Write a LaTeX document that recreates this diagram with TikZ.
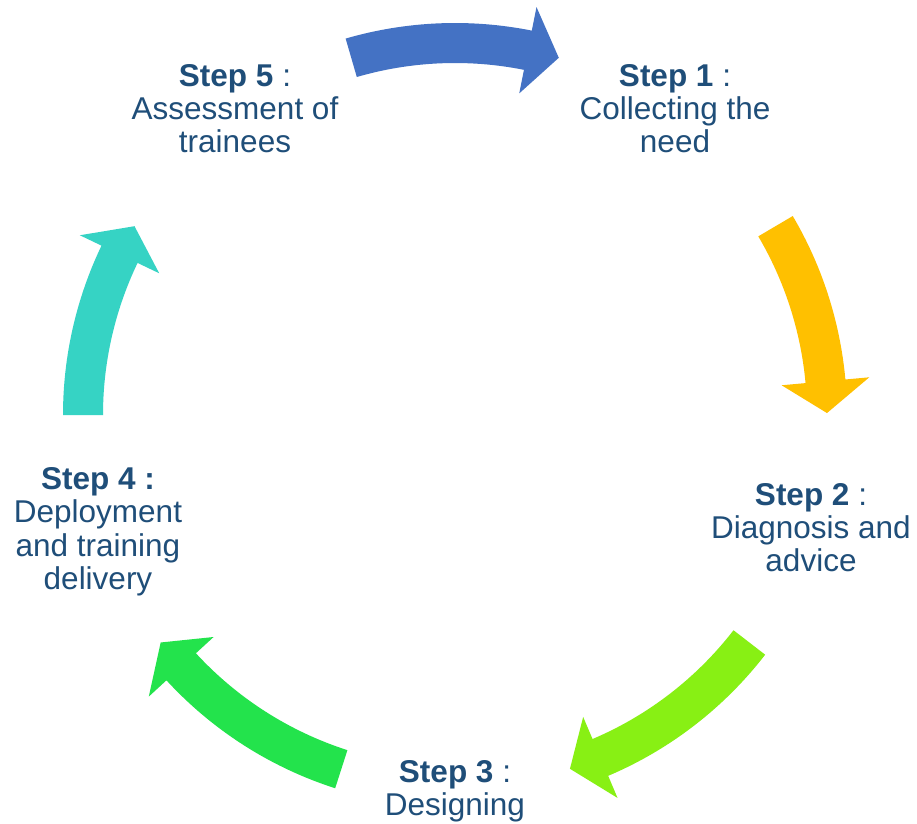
\documentclass[tikz,border=0pt]{standalone}
\usepackage{fontspec}
\setmainfont{Liberation Sans}
\definecolor{txtblue}{HTML}{1F4E79}
\definecolor{arrblue}{HTML}{4472C4}
\definecolor{arryellow}{HTML}{FFC000}
\definecolor{arrlime}{HTML}{88F014}
\definecolor{arrgreen}{HTML}{23E34C}
\definecolor{arrteal}{HTML}{36D3C4}
\newcommand\cyclearrow[4]{%
  \fill[#1] (#2:392pt) arc[start angle=#2, end angle=#3, radius=392pt]
    -- (#3:416pt) -- (#4:372pt) -- (#3:328pt) -- (#3:352pt)
    arc[start angle=#3, end angle=#2, radius=352pt] -- cycle;}
\newcommand\firstline{\rule{0pt}{25pt}}
\begin{document}
\begin{tikzpicture}[x=1pt,y=1pt,
  steplabel/.style={text=txtblue, align=center, inner sep=0pt, anchor=north,
    font=\fontsize{31.5}{33.2}\selectfont}]
\fill[white] (0,0) rectangle (917,823);
\useasboundingbox (0,0) rectangle (917,823);
\begin{scope}[shift={(455,408)}]
  \cyclearrow{arrblue}{106.2}{78.7}{73.8}
  \cyclearrow{arryellow}{30.5}{5.2}{0.3}
  \cyclearrow{arrlime}{322.3}{293}{288}
  \cyclearrow{arrgreen}{252.2}{222.6}{217.7}
  \cyclearrow{arrteal}{180}{154.4}{149.5}
\end{scope}
\node[steplabel] (s1) at (675,762) {\firstline\textbf{Step 1} :\\Collecting the\\need};
\node[steplabel] (s2) at (811,343) {\firstline\textbf{Step 2} :\\Diagnosis and\\advice};
\node[steplabel] (s3) at (455,66) {\firstline\textbf{Step 3} :\\Designing};
\node[steplabel] (s4) at (98,358.5) {\firstline\textbf{Step 4 :}\\Deployment\\and training\\delivery};
\node[steplabel] (s5) at (235,762) {\firstline\textbf{Step 5} :\\Assessment of\\trainees};
\end{tikzpicture}
\end{document}
